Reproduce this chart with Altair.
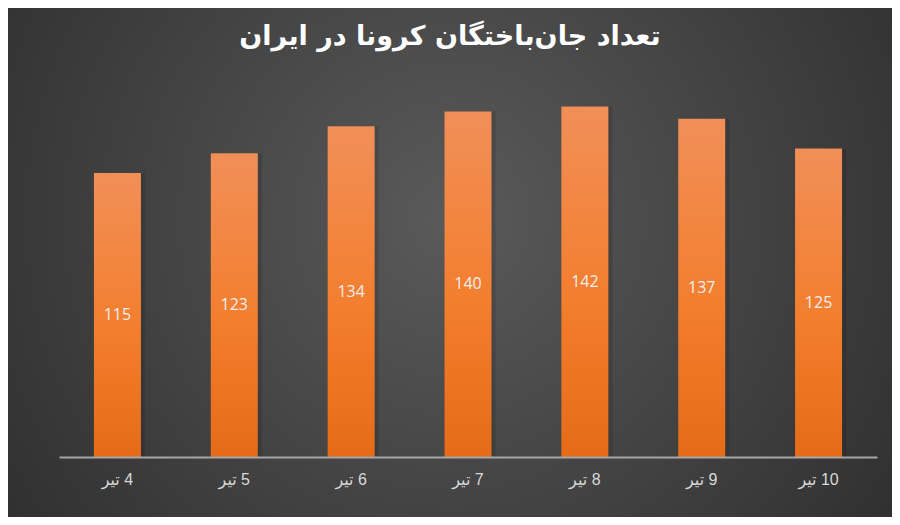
import altair as alt
import pandas as pd

days = ["4 تیر", "5 تیر", "6 تیر", "7 تیر", "8 تیر", "9 تیر", "10 تیر"]
deaths = [115, 123, 134, 140, 142, 137, 125]
title_text = "تعداد جان‌باختگان کرونا در ایران"

df = pd.DataFrame({"day": days, "deaths": deaths})

W, H = 818, 395
PAD = {"left": 51, "top": 54, "right": 15, "bottom": 60}
TOTAL_W = W + PAD["left"] + PAD["right"]
TOTAL_H = H + PAD["top"] + PAD["bottom"]

bg_fill = {
    "gradient": "radial",
    "x1": 0.5, "y1": 0.45, "r1": 0.0,
    "x2": 0.5, "y2": 0.45, "r2": 0.75,
    "stops": [
        {"offset": 0, "color": "#5a5a5a"},
        {"offset": 1, "color": "#262626"},
    ],
}
bar_fill = {
    "gradient": "linear",
    "x1": 0, "y1": 0, "x2": 0, "y2": 1,
    "stops": [
        {"offset": 0, "color": "#f18f58"},
        {"offset": 0.55, "color": "#f37e2e"},
        {"offset": 1, "color": "#e56b18"},
    ],
}

background = alt.Chart(pd.DataFrame({"a": [0]})).mark_rect(color=bg_fill).encode(
    x=alt.value(-PAD["left"]),
    x2=alt.value(TOTAL_W - PAD["left"]),
    y=alt.value(-PAD["top"]),
    y2=alt.value(TOTAL_H - PAD["top"]),
)

x = alt.X(
    "day:N",
    sort=days,
    scale=alt.Scale(paddingInner=0, paddingOuter=0),
    axis=alt.Axis(
        title=None,
        labelAngle=0,
        ticks=False,
        grid=False,
        domainColor="#a6a6a6",
        domainWidth=2,
        labelColor="#d9d9d9",
        labelFontSize=16,
        labelFont="Liberation Sans, DejaVu Sans",
        labelPadding=14,
        labelExpr="'\u200f' + datum.label",
        zindex=1,
    ),
)
y_scale = alt.Scale(domain=[0, 160])

shadow = alt.Chart(df).mark_bar(size=51, color="#000000", opacity=0.12, xOffset=2).encode(
    x=x,
    y=alt.Y("deaths:Q", scale=y_scale, axis=None),
)

bars = alt.Chart(df).mark_bar(size=47, color=bar_fill).encode(
    x=x,
    y=alt.Y("deaths:Q", scale=y_scale, axis=None),
)

labels = alt.Chart(df).transform_calculate(mid="datum.deaths / 2").mark_text(
    baseline="middle", fontSize=16, color="#eeeeee", font="Open Sans"
).encode(
    x=x,
    y=alt.Y("mid:Q", scale=y_scale, axis=None),
    text="deaths:Q",
)

title = alt.Chart(pd.DataFrame({"t": [title_text]})).mark_text(
    fontSize=27, fontWeight="bold", color="#ffffff", font="DejaVu Sans", baseline="middle"
).encode(
    x=alt.value(450 - 8 - PAD["left"]),
    y=alt.value(37 - 8 - PAD["top"]),
    text="t:N",
)

chart = alt.layer(background, shadow, bars, labels, title).properties(
    width=W,
    height=H,
    padding=PAD,
    autosize=alt.AutoSizeParams(type="none"),
).configure_view(stroke=None).configure(background="#333333")

chart.save("out.html", embed_options={"renderer": "svg", "actions": False})
